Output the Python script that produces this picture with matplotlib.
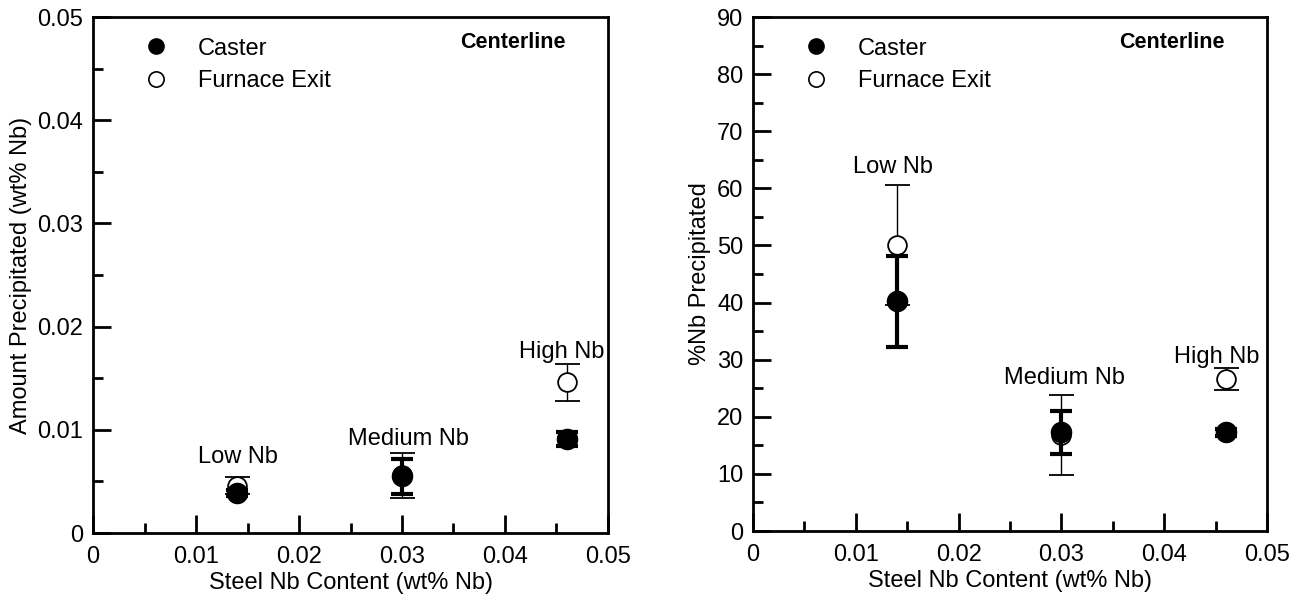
import numpy as np
import matplotlib
matplotlib.use('Agg')
from matplotlib import pyplot as plt
from matplotlib.ticker import MultipleLocator

plt.rcParams['font.family'] = ['Liberation Sans', 'DejaVu Sans']
plt.rcParams['font.size'] = 17

# Steel Nb content of the three grades
nb_content = [0.014, 0.030, 0.046]
grades = ['Low Nb', 'Medium Nb', 'High Nb']

# amount precipitated (wt% Nb)
amt_caster = [0.0039, 0.0055, 0.0091]
amt_caster_err = [0.0003, 0.0017, 0.0007]
amt_furnace = [0.0046, 0.0056, 0.0146]
amt_furnace_err = [0.0008, 0.0022, 0.0018]

# % Nb precipitated
pct_caster = [40.2, 17.3, 17.3]
pct_caster_err = [8.0, 3.8, 0.6]
pct_furnace = [50.0, 16.8, 26.6]
pct_furnace_err = [10.5, 7.0, 1.9]

# where the grade names are written
amt_label_x = [0.0141, 0.0306, 0.0455]
amt_label_y = [0.0074, 0.0091, 0.0175]
pct_label_x = [0.0136, 0.0303, 0.0451]
pct_label_y = [63.7, 26.8, 30.5]


def fmt(v, p):
    return '0' if v == 0 else f'{v:g}'


def style_axes(ax, ymax, ymajor, yminor):
    ax.set_xlim(0, 0.05)
    ax.set_ylim(0, ymax)
    ax.xaxis.set_major_locator(MultipleLocator(0.01))
    ax.xaxis.set_minor_locator(MultipleLocator(0.005))
    ax.yaxis.set_major_locator(MultipleLocator(ymajor))
    ax.yaxis.set_minor_locator(MultipleLocator(yminor))
    ax.xaxis.set_major_formatter(plt.FuncFormatter(fmt))
    ax.yaxis.set_major_formatter(plt.FuncFormatter(fmt))
    ax.tick_params(which='major', direction='in', length=13, width=2, labelsize=17, pad=7)
    ax.tick_params(axis='x', which='major', pad=9)
    ax.tick_params(which='minor', direction='in', length=7, width=2)
    ax.tick_params(top=False, right=False, which='both')
    for s in ax.spines.values():
        s.set_linewidth(2)
    ax.set_xlabel('Steel Nb Content (wt% Nb)', labelpad=3.5)


def draw(ax, caster, caster_err, furnace, furnace_err, label_x, label_y):
    ax.errorbar(nb_content, furnace, yerr=furnace_err, fmt='o', ms=13.5,
                mfc='white', mec='black', mew=1.3, ecolor='black',
                elinewidth=1, capsize=9, capthick=1, zorder=3)
    ax.errorbar(nb_content, caster, yerr=caster_err, fmt='o', ms=14.5,
                mfc='black', mec='black', ecolor='black',
                elinewidth=3, capsize=8, capthick=3, zorder=4)
    for x, y, g in zip(label_x, label_y, grades):
        ax.text(x, y, g, ha='center', va='center', fontsize=17)
    # legend handles
    ax.plot([], [], 'o', ms=11, mfc='black', mec='black', label='Caster')
    ax.plot([], [], 'o', ms=11, mfc='white', mec='black', mew=1.2, label='Furnace Exit')
    ax.legend(loc='upper left', frameon=False, fontsize=17, handletextpad=1.0,
              handlelength=1.6, borderaxespad=0, borderpad=0, labelspacing=0.45,
              bbox_to_anchor=(0.085, 0.96))
    ax.text(0.917, 0.951, 'Centerline', transform=ax.transAxes, ha='right',
            va='center', fontweight='bold', fontsize=15.5)


fig = plt.figure(figsize=(13.03, 5.97), dpi=100)
ax1 = fig.add_axes([0.0714, 0.1072, 0.3952, 0.8643])
ax2 = fig.add_axes([0.5779, 0.1105, 0.3945, 0.861])

draw(ax1, amt_caster, amt_caster_err, amt_furnace, amt_furnace_err, amt_label_x, amt_label_y)
style_axes(ax1, 0.05, 0.01, 0.005)
ax1.set_ylabel('Amount Precipitated (wt% Nb)', labelpad=4)

draw(ax2, pct_caster, pct_caster_err, pct_furnace, pct_furnace_err, pct_label_x, pct_label_y)
style_axes(ax2, 90, 10, 5)
ax2.set_ylabel('%Nb Precipitated', labelpad=4)

fig.savefig('out.png', dpi=100)
